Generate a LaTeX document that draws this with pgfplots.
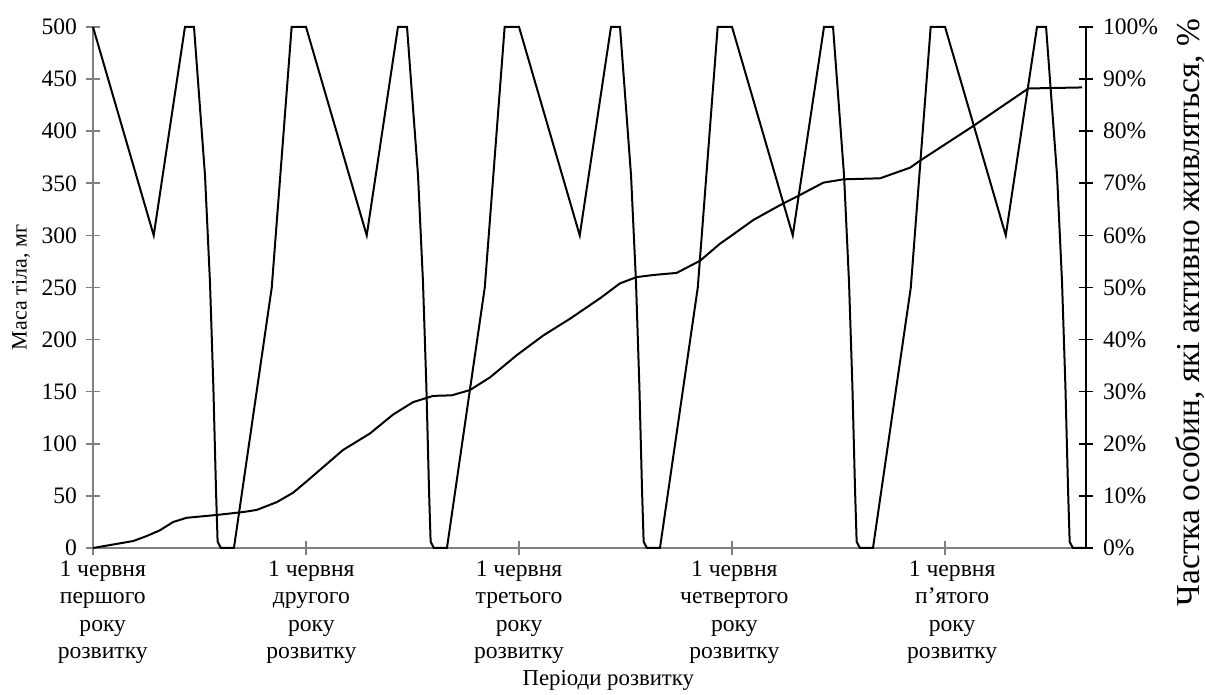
\documentclass[border=0pt]{standalone}
\usepackage{fontspec}
\setmainfont{Liberation Serif}
\usepackage{pgfplots}
\pgfplotsset{compat=1.18}
\usetikzlibrary{calc}

\definecolor{axgray}{RGB}{128,128,128}

% mass, mg (left axis); x in months from 1 June of the first year
\pgfplotstableread{
x     y
0     0
2.27  6.7
3.03  11.5
3.77  17
4.52  25
5.28  29
6.97  31.7
8.45  34.5
9.22  36.5
10.35 44
11.27 53
12.04 64
14.08 94
15.61 110
16.90 128
18.03 140
19.17 146
20.21 146.5
21.24 151.6
22.37 163.8
23.87 185
25.37 204
26.87 220
28.56 239.6
29.69 254
30.63 260
31.57 262
32.88 264
34.20 275.7
35.32 292
35.89 298.8
37.20 314.8
38.70 329
39.83 338.8
41.14 350.6
42.27 353.8
44.34 354.8
46.03 365
46.59 371.7
49.59 405
52.69 441
55.72 442
}\masstable

% share of actively feeding individuals, % (right axis)
\pgfplotstableread{
x     y
0     100
3.42  60
5.18  100
5.69  100
6.31  71.5
6.59  51
6.78  31
6.93  11
7.02  1.2
7.20  0
7.94  0
10.07 50
11.19 100
12    100
15.42 60
17.18 100
17.69 100
18.31 71.5
18.59 51
18.78 31
18.93 11
19.02 1.2
19.20 0
19.94 0
22.07 50
23.19 100
24    100
27.42 60
29.18 100
29.69 100
30.31 71.5
30.59 51
30.78 31
30.93 11
31.02 1.2
31.20 0
31.94 0
34.07 50
35.19 100
36    100
39.42 60
41.18 100
41.69 100
42.31 71.5
42.59 51
42.78 31
42.93 11
43.02 1.2
43.20 0
43.94 0
46.07 50
47.19 100
48    100
51.42 60
53.18 100
53.69 100
54.31 71.5
54.59 51
54.78 31
54.93 11
55.02 1.2
55.20 0
55.94 0
}\feedtable

\begin{document}
\begin{tikzpicture}
\pgfplotsset{
  every axis/.append style={
    scale only axis,
    width=496.5pt, height=260.5pt,
    xmin=0, xmax=55.94,
    clip=false,
    tick align=center,
    major tick length=7pt,
    /pgf/number format/assume math mode=true,
    tick label style={font=\fontsize{11.8pt}{13.6pt}\selectfont},
  },
}
\begin{axis}[
  name=main,
  ymin=0, ymax=500,
  axis x line*=bottom,
  axis y line*=left,
  axis line style={axgray, line width=0.8pt},
  every tick/.style={axgray, line width=0.8pt},
  ytick={0,50,...,500},
  yticklabel style={xshift=-1pt},
  xtick={0,12,24,36,48},
  xticklabels={},
  extra x ticks={0.55,12.3,24,36.13,48.4},
  extra x tick labels={
    {1 червня\\першого\\року\\розвитку},
    {1 червня\\другого\\року\\розвитку},
    {1 червня\\третього\\року\\розвитку},
    {1 червня\\четвертого\\року\\розвитку},
    {1 червня\\п’ятого\\року\\розвитку}},
  extra x tick style={major tick length=0pt},
  xticklabel style={align=center, yshift=-3pt},
  xlabel={Періоди розвитку},
  xlabel style={at={(axis description cs:0.519,-0.2534)}, anchor=center,
    font=\fontsize{11.4pt}{13pt}\selectfont},
  ylabel={Маса тіла, мг},
  ylabel style={at={(axis description cs:-0.0725,0.5)}, anchor=center,
    font=\fontsize{11pt}{13pt}\selectfont},
]
\addplot[black, line width=1pt] table[x=x, y=y] {\masstable};
\end{axis}

\begin{axis}[
  ymin=0, ymax=100,
  axis x line=none,
  axis y line*=right,
  axis line style={black, line width=0.8pt},
  every tick/.style={black, line width=0.8pt},
  ytick={0,10,...,100},
  yticklabels={0\%,10\%,20\%,30\%,40\%,50\%,60\%,70\%,80\%,90\%,100\%},
  yticklabel style={xshift=1.5pt},
  ylabel={Частка особин, які активно живляться, \%},
  ylabel style={at={(axis description cs:1.1047,0.452)}, anchor=center,
    font=\fontsize{16.7pt}{19pt}\selectfont},
]
\addplot[black, line width=1pt] table[x=x, y=y] {\feedtable};
\end{axis}

\pgfresetboundingbox
\path ($(main.south west)+(-46.5pt,-73.5pt)$) rectangle ($(main.north east)+(59.5pt,13.5pt)$);
\end{tikzpicture}
\end{document}
